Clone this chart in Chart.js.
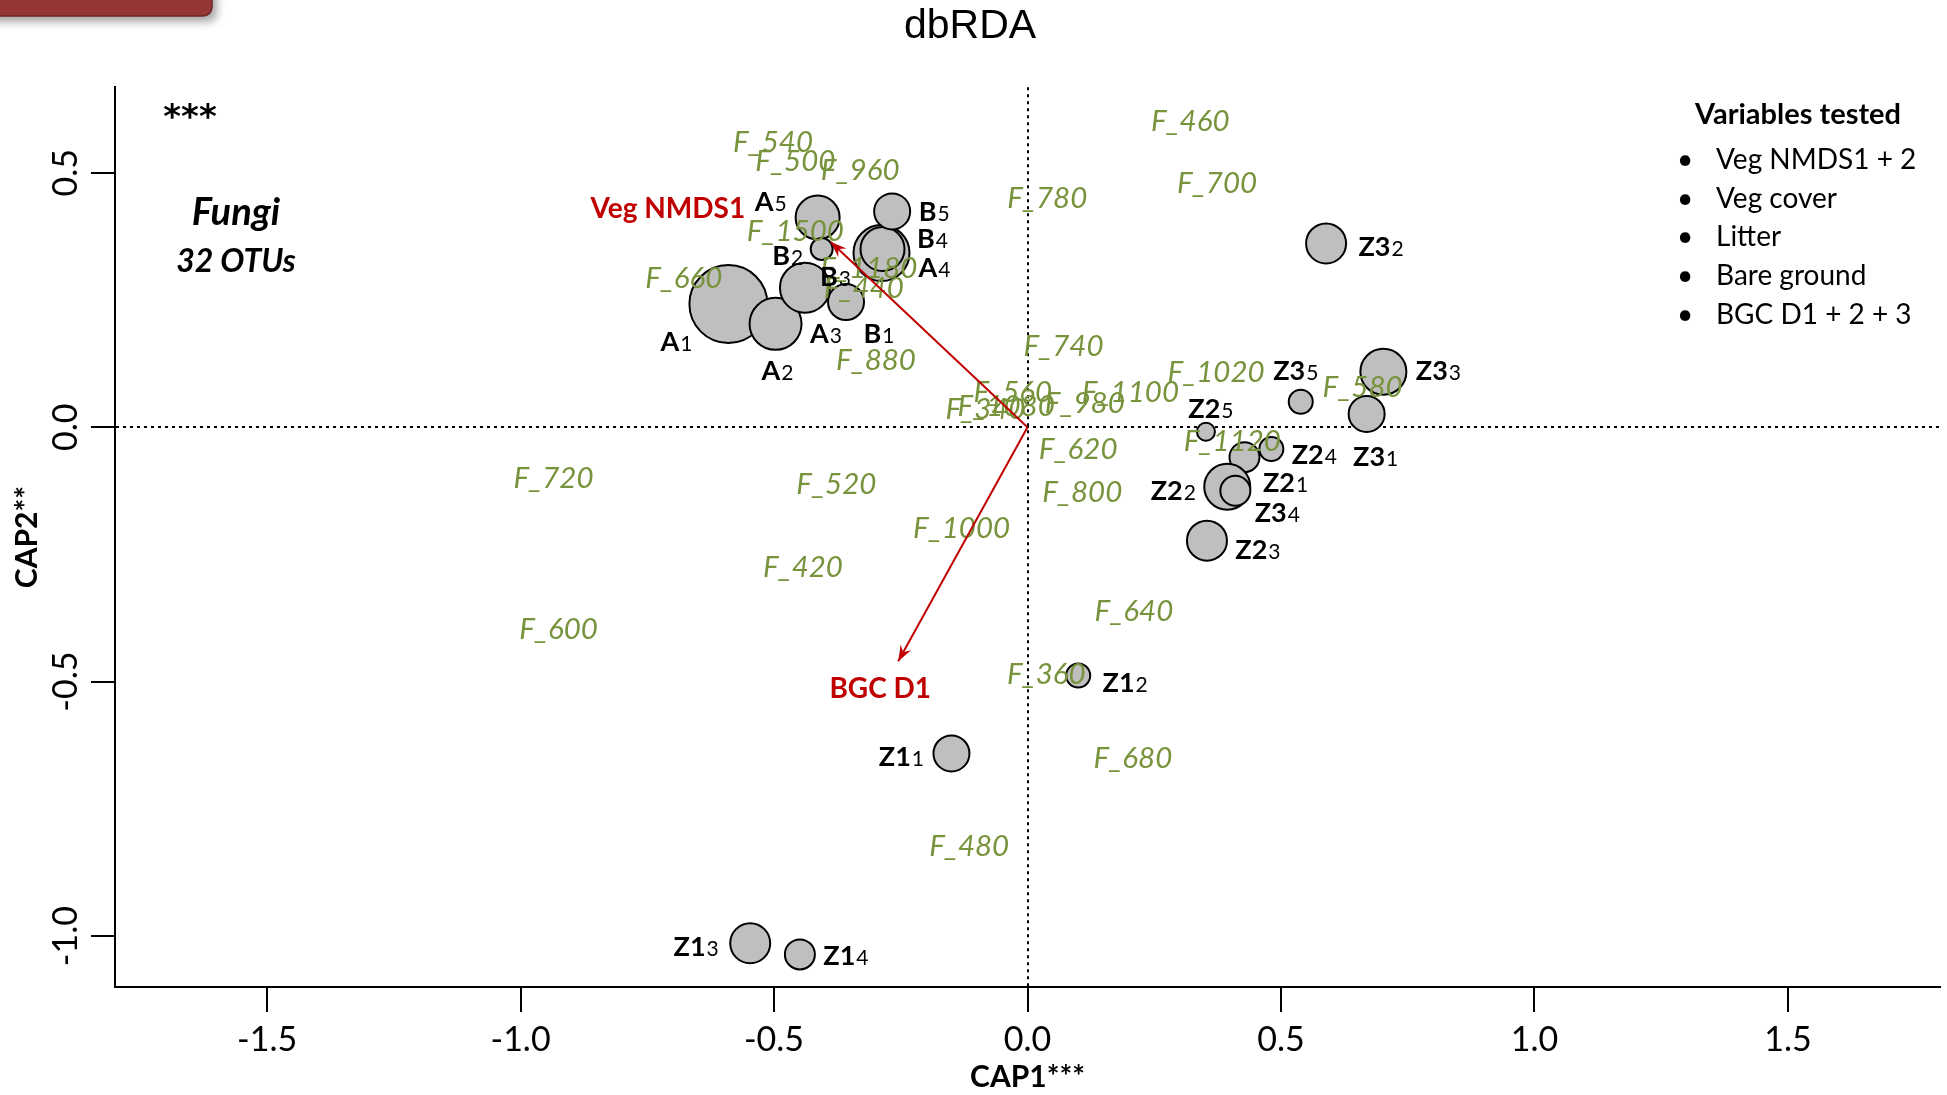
<!DOCTYPE html>
<html>
<head>
<meta charset="utf-8">
<title>dbRDA</title>
<script src="https://cdn.jsdelivr.net/npm/chart.js@4.4.1/dist/chart.umd.min.js"></script>
<style>
  html, body { margin: 0; padding: 0; background: #fff; overflow: hidden; }
  #wrap { width: 1947px; height: 1095px; position: relative; }
</style>
</head>
<body>
<div id="wrap"><canvas id="myChart"></canvas></div>
<script>
// sites: label (last char is the replicate, drawn small), CAP1, CAP2, bubble size
const siteLabels = ['A1', 'A2', 'A3', 'A4', 'A5', 'B1', 'B2', 'B3', 'B4', 'B5',
    'Z11', 'Z12', 'Z13', 'Z14', 'Z21', 'Z22', 'Z23', 'Z24', 'Z25',
    'Z31', 'Z32', 'Z33', 'Z34', 'Z35'];
const siteCap1 = [-0.590, -0.497, -0.439, -0.288, -0.414, -0.358, -0.406, -0.290, -0.286, -0.267,
    -0.150, 0.100, -0.547, -0.449, 0.428, 0.394, 0.354, 0.481, 0.352,
    0.669, 0.589, 0.702, 0.410, 0.539];
const siteCap2 = [0.242, 0.203, 0.274, 0.342, 0.412, 0.246, 0.350, 0.345, 0.350, 0.424,
    -0.641, -0.488, -1.014, -1.036, -0.059, -0.117, -0.223, -0.043, -0.009,
    0.026, 0.361, 0.109, -0.125, 0.050];
const siteSize = [4.0, 2.7, 2.6, 2.9, 2.3, 1.9, 1.2, 1.6, 2.3, 1.9,
    1.9, 1.3, 2.1, 1.6, 1.6, 2.4, 2.1, 1.3, 1.0,
    1.9, 2.1, 2.4, 1.6, 1.3];

// OTU scores
const otuNames = ['F_540', 'F_500', 'F_960', 'F_1500', 'F_660', 'F_1180', 'F_440', 'F_880',
    'F_460', 'F_700', 'F_780', 'F_740', 'F_1020', 'F_560', 'F_1080', 'F_1100', 'F_340',
    'F_980', 'F_580', 'F_1120', 'F_620', 'F_800', 'F_720', 'F_520', 'F_1000', 'F_420',
    'F_600', 'F_640', 'F_360', 'F_680', 'F_480'];
const otuCap1 = [-0.502, -0.458, -0.330, -0.458, -0.678, -0.313, -0.323, -0.299,
    0.321, 0.374, 0.039, 0.071, 0.372, -0.029, -0.042, 0.203, -0.083,
    0.113, 0.661, 0.404, 0.100, 0.108, -0.935, -0.377, -0.130, -0.443,
    -0.925, 0.210, 0.037, 0.208, -0.115];
const otuCap2 = [0.559, 0.522, 0.505, 0.385, 0.293, 0.312, 0.273, 0.132,
    0.600, 0.478, 0.449, 0.159, 0.107, 0.068, 0.041, 0.068, 0.034,
    0.046, 0.078, -0.029, -0.044, -0.129, -0.100, -0.112, -0.200, -0.276,
    -0.398, -0.363, -0.485, -0.651, -0.824];

// fitted environmental vectors
const envNames = ['Veg NMDS1', 'BGC D1'];
const envCap1 = [-0.388, -0.255];
const envCap2 = [0.364, -0.460];

const xTicks = [-1.5, -1.0, -0.5, 0.0, 0.5, 1.0, 1.5];
const yTicks = [-1.0, -0.5, 0.0, 0.5];

const variablesTested = ['Veg NMDS1 + 2', 'Veg cover', 'Litter', 'Bare ground', 'BGC D1 + 2 + 3'];

// label nudges in px (from bubble centre / arrow tip)
const siteNudge = [[-52, 37], [2, 46], [21, 45], [53, 14], [-47, -16], [33, 31], [-34, 6], [-45, 24], [50, -11], [42, 0],
    [-50, 3], [47, 6], [-54, 3], [46, 1], [41, 25], [-54, 3], [51, 8], [43, 5], [5, -24],
    [9, 42], [55, 3], [55, -2], [42, 21], [-5, -32]];
const envNudge = [[-163, -33], [-18, 28]];

const GREEN = '#77933C';
const RED = '#C00000';

const sites = siteLabels.map((l, i) => ({x: siteCap1[i], y: siteCap2[i], r: siteSize[i] * 10 - 1}));
const otus = otuNames.map((n, i) => ({x: otuCap1[i], y: otuCap2[i]}));

const datasets = [{
    type: 'bubble',
    label: 'sites',
    data: sites,
    backgroundColor: '#BFBFBF',
    borderColor: '#000',
    borderWidth: 2,
    order: 3
}, {
    type: 'scatter',
    label: 'otus',
    data: otus,
    pointRadius: 0,
    order: 2
}];
envNames.forEach((n, i) => {
    datasets.push({
        type: 'scatter',
        label: 'env:' + n,
        data: [{x: 0, y: 0}, {x: envCap1[i], y: envCap2[i]}],
        showLine: true,
        borderColor: RED,
        borderWidth: 2,
        pointRadius: 0,
        order: 1
    });
});

function zeroOnly(ctx) {
    return ctx.tick && Math.abs(ctx.tick.value) < 1e-9 ? '#000' : 'rgba(0,0,0,0)';
}

const dbrdaText = {
    id: 'dbrdaText',
    beforeDraw(chart) {
        const ctx = chart.ctx;
        ctx.save();
        ctx.fillStyle = '#fff';
        ctx.fillRect(0, 0, chart.width, chart.height);
        // slide button remnant top-left
        ctx.shadowColor = 'rgba(0,0,0,0.35)';
        ctx.shadowBlur = 8;
        ctx.shadowOffsetX = 5;
        ctx.shadowOffsetY = 6;
        ctx.fillStyle = '#953735';
        ctx.beginPath();
        ctx.roundRect(-20, -20, 232, 36, 9);
        ctx.fill();
        ctx.shadowColor = 'transparent';
        ctx.strokeStyle = '#6e2827';
        ctx.lineWidth = 1.5;
        ctx.stroke();
        ctx.restore();
    },
    afterDatasetDraw(chart, args) {
        if (chart.data.datasets[args.index].label !== 'otus') return;
        const ctx = chart.ctx;
        const meta = args.meta;
        ctx.save();
        ctx.font = 'italic 29.5px Lato';
        ctx.fillStyle = GREEN;
        ctx.textAlign = 'center';
        ctx.textBaseline = 'middle';
        meta.data.forEach((pt, i) => ctx.fillText(otuNames[i], pt.x, pt.y));
        ctx.restore();
    },
    afterDatasetsDraw(chart) {
        const ctx = chart.ctx;
        ctx.save();
        // arrow heads + env labels
        chart.data.datasets.forEach((ds, di) => {
            if (!ds.label.startsWith('env:')) return;
            const k = envNames.indexOf(ds.label.slice(4));
            const pts = chart.getDatasetMeta(di).data;
            const x0 = pts[0].x, y0 = pts[0].y, x1 = pts[1].x, y1 = pts[1].y;
            const a = Math.atan2(y1 - y0, x1 - x0);
            const len = 17, wing = 0.36;
            ctx.fillStyle = RED;
            ctx.beginPath();
            ctx.moveTo(x1, y1);
            ctx.lineTo(x1 - len * Math.cos(a - wing), y1 - len * Math.sin(a - wing));
            ctx.lineTo(x1 - len * 0.6 * Math.cos(a), y1 - len * 0.6 * Math.sin(a));
            ctx.lineTo(x1 - len * Math.cos(a + wing), y1 - len * Math.sin(a + wing));
            ctx.closePath();
            ctx.fill();
            ctx.font = 'bold 28px Lato';
            ctx.textAlign = 'center';
            ctx.textBaseline = 'middle';
            ctx.fillText(envNames[k], x1 + envNudge[k][0], y1 + envNudge[k][1]);
        });
        // site labels
        const meta = chart.getDatasetMeta(0);
        ctx.fillStyle = '#000';
        ctx.textBaseline = 'alphabetic';
        ctx.textAlign = 'left';
        meta.data.forEach((pt, i) => {
            const lab = siteLabels[i];
            const main = lab.slice(0, -1), sub = lab.slice(-1);
            ctx.font = 'bold 27px Lato';
            const w1 = ctx.measureText(main).width;
            ctx.font = '21px Lato';
            const w2 = ctx.measureText(sub).width;
            const cx = pt.x + siteNudge[i][0], cy = pt.y + siteNudge[i][1];
            const sx = cx - (w1 + w2 + 1) / 2;
            const base = cy + 10;
            ctx.font = 'bold 27px Lato';
            ctx.fillText(main, sx, base);
            ctx.font = '21px Lato';
            ctx.fillText(sub, sx + w1 + 1, base);
        });
        ctx.restore();
    },
    afterDraw(chart) {
        const ctx = chart.ctx;
        const ys = chart.scales.y;
        ctx.save();
        // y tick labels, rotated like base R
        ctx.fillStyle = '#000';
        ctx.font = '34px Lato';
        ctx.textAlign = 'center';
        ctx.textBaseline = 'middle';
        ys.ticks.forEach(t => {
            const py = ys.getPixelForValue(t.value);
            ctx.save();
            ctx.translate(66, py);
            ctx.rotate(-Math.PI / 2);
            ctx.fillText(t.value.toFixed(1), 0, 0);
            ctx.restore();
        });
        // significance + group note
        ctx.textBaseline = 'alphabetic';
        ctx.font = 'bold 34px "DejaVu Sans"';
        ctx.fillText('***', 190, 128);
        ctx.font = 'italic bold 38px Lato';
        ctx.fillText('Fungi', 236, 225);
        ctx.font = 'italic bold 32px Lato';
        ctx.fillText('32 OTUs', 236, 272);
        // variables tested box
        ctx.font = 'bold 29px Lato';
        ctx.fillText('Variables tested', 1798, 124);
        ctx.font = '28px Lato';
        variablesTested.forEach((v, i) => {
            const by = 169 + i * 38.7;
            ctx.textAlign = 'center';
            ctx.fillText('\u2022', 1685, by);
            ctx.textAlign = 'left';
            ctx.fillText(v, 1716, by);
        });
        ctx.restore();
    }
};

new Chart(document.getElementById('myChart'), {
    type: 'bubble',
    data: {datasets: datasets},
    plugins: [dbrdaText],
    options: {
        responsive: true,
        maintainAspectRatio: false,
        animation: false,
        events: [],
        layout: {autoPadding: false, padding: {top: 0, left: 0, right: 7, bottom: 0}},
        plugins: {
            legend: {display: false},
            tooltip: {enabled: false},
            title: {
                display: true,
                text: 'dbRDA',
                color: '#000',
                font: {family: 'Liberation Sans', size: 41, weight: 'normal'},
                padding: {top: 2, bottom: 36}
            }
        },
        scales: {
            x: {
                type: 'linear',
                position: 'bottom',
                min: -1.8,
                max: 1.8,
                afterFit: s => { s.height = 108; s.paddingLeft = 0; s.paddingRight = 0; },
                ticks: {
                    stepSize: 0.5,
                    includeBounds: false,
                    color: '#000',
                    padding: 8,
                    font: {family: 'Lato', size: 34},
                    callback: v => xTicks.some(t => Math.abs(t - v) < 1e-9) ? v.toFixed(1) : ''
                },
                grid: {
                    color: zeroOnly,
                    lineWidth: 2,
                    drawTicks: true,
                    tickLength: 25,
                    tickColor: '#000',
                    tickWidth: 2,
                    tickBorderDash: []
                },
                border: {display: true, color: '#000', width: 2, dash: [3, 4]},
                title: {
                    display: true,
                    text: 'CAP1***',
                    color: '#000',
                    font: {family: 'Lato', size: 30, weight: 'bold'},
                    padding: {top: 0, bottom: 0}
                }
            },
            y: {
                type: 'linear',
                position: 'left',
                min: -1.1,
                max: 0.668,
                afterFit: s => { s.width = 115; },
                ticks: {
                    stepSize: 0.5,
                    includeBounds: false,
                    display: false
                },
                grid: {
                    color: zeroOnly,
                    lineWidth: 2,
                    drawTicks: true,
                    tickLength: 24,
                    tickColor: '#000',
                    tickWidth: 2,
                    tickBorderDash: []
                },
                border: {display: true, color: '#000', width: 2, dash: [3, 4]},
                title: {
                    display: true,
                    text: 'CAP2**',
                    color: '#000',
                    font: {family: 'Lato', size: 30, weight: 'bold'},
                    padding: {top: 9, bottom: 0}
                }
            }
        }
    }
});
</script>
</body>
</html>
